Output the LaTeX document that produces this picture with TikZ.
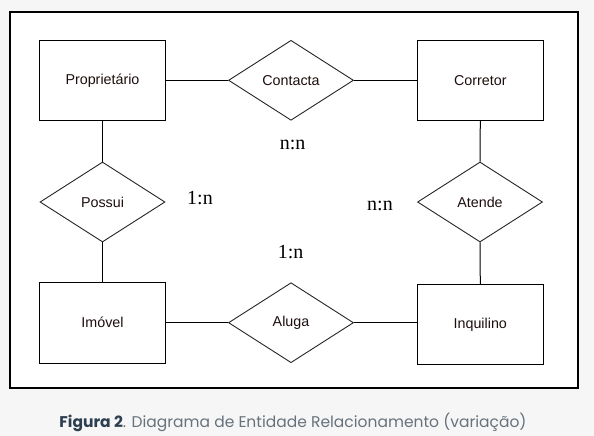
\documentclass[tikz,border=0pt]{standalone}
\usepackage{fontspec}
\setmainfont{Liberation Sans}
\newfontfamily\serifcard{Liberation Serif}
\newfontfamily\capfont{Poppins}
\usetikzlibrary{shapes.geometric}
\definecolor{bgdot}{HTML}{F6F6F6}
\definecolor{txtdark}{HTML}{1E0E0E}
\definecolor{capdark}{HTML}{2C3E50}
\definecolor{capgray}{HTML}{66727C}
\tikzset{
  entity/.style={draw=black, line width=1pt, fill=white, minimum width=126pt, minimum height=80pt, inner sep=0pt, font=\fontsize{14.3}{16}\selectfont, text=txtdark},
  relation/.style={draw=black!85, line width=0.9pt, fill=white, diamond, shape aspect=1.5625, minimum width=125pt, minimum height=80pt, inner sep=0pt, font=\fontsize{14.3}{16}\selectfont, text=txtdark},
  card/.style={font=\serifcard\fontsize{20}{22}\selectfont, text=black, inner sep=0pt},
  link/.style={draw=black, line width=1pt}
}
\begin{document}
\begin{tikzpicture}[x=1pt,y=-1pt]
\useasboundingbox (0,0) rectangle (594,436);
\fill[bgdot] (0,0) rectangle (594,436);
\draw[line width=1.1pt, fill=white] (10,12) rectangle (578,388);
\node[entity] (prop) at (102.5,80.3) {Proprietário};
\node[entity] (corr) at (480.3,80.3) {Corretor};
\node[entity, minimum height=81pt] (imov) at (102.5,322.8) {Imóvel};
\node[entity] (inq) at (480.3,324.3) {Inquilino};
\node[relation] (cont) at (291,80.3) {Contacta};
\node[relation] (alug) at (291,322.7) {Aluga};
\node[relation] (poss) at (102.5,202) {Possui};
\node[relation] (aten) at (480,202) {Atende};
\draw[link] (prop.east) -- (cont.west);
\draw[link] (cont.east) -- (corr.west);
\draw[link] (alug.west -| imov.east) -- (alug.west);
\draw[link] (alug.east) -- (alug.east -| inq.west);
\draw[link] (prop.south) -- (poss.north);
\draw[link] (poss.south) -- (imov.north);
\draw[link] (corr.south) -- (aten.north);
\draw[link] (aten.south) -- (inq.north);
\node[card] (c1) at (292.7,145) {n:n};
\node[card] (c2) at (200,198) {1:n};
\node[card] (c3) at (380,206) {n:n};
\node[card] (c4) at (290.7,252.5) {1:n};
\node[inner sep=0pt] (cap) at (293,422.5) {\resizebox{467pt}{!}{\capfont\fontsize{17}{20}\selectfont\textcolor{capdark}{\textbf{Figura 2}}\textcolor{capgray}{. Diagrama de Entidade Relacionamento (variação)}}};
\end{tikzpicture}
\end{document}
